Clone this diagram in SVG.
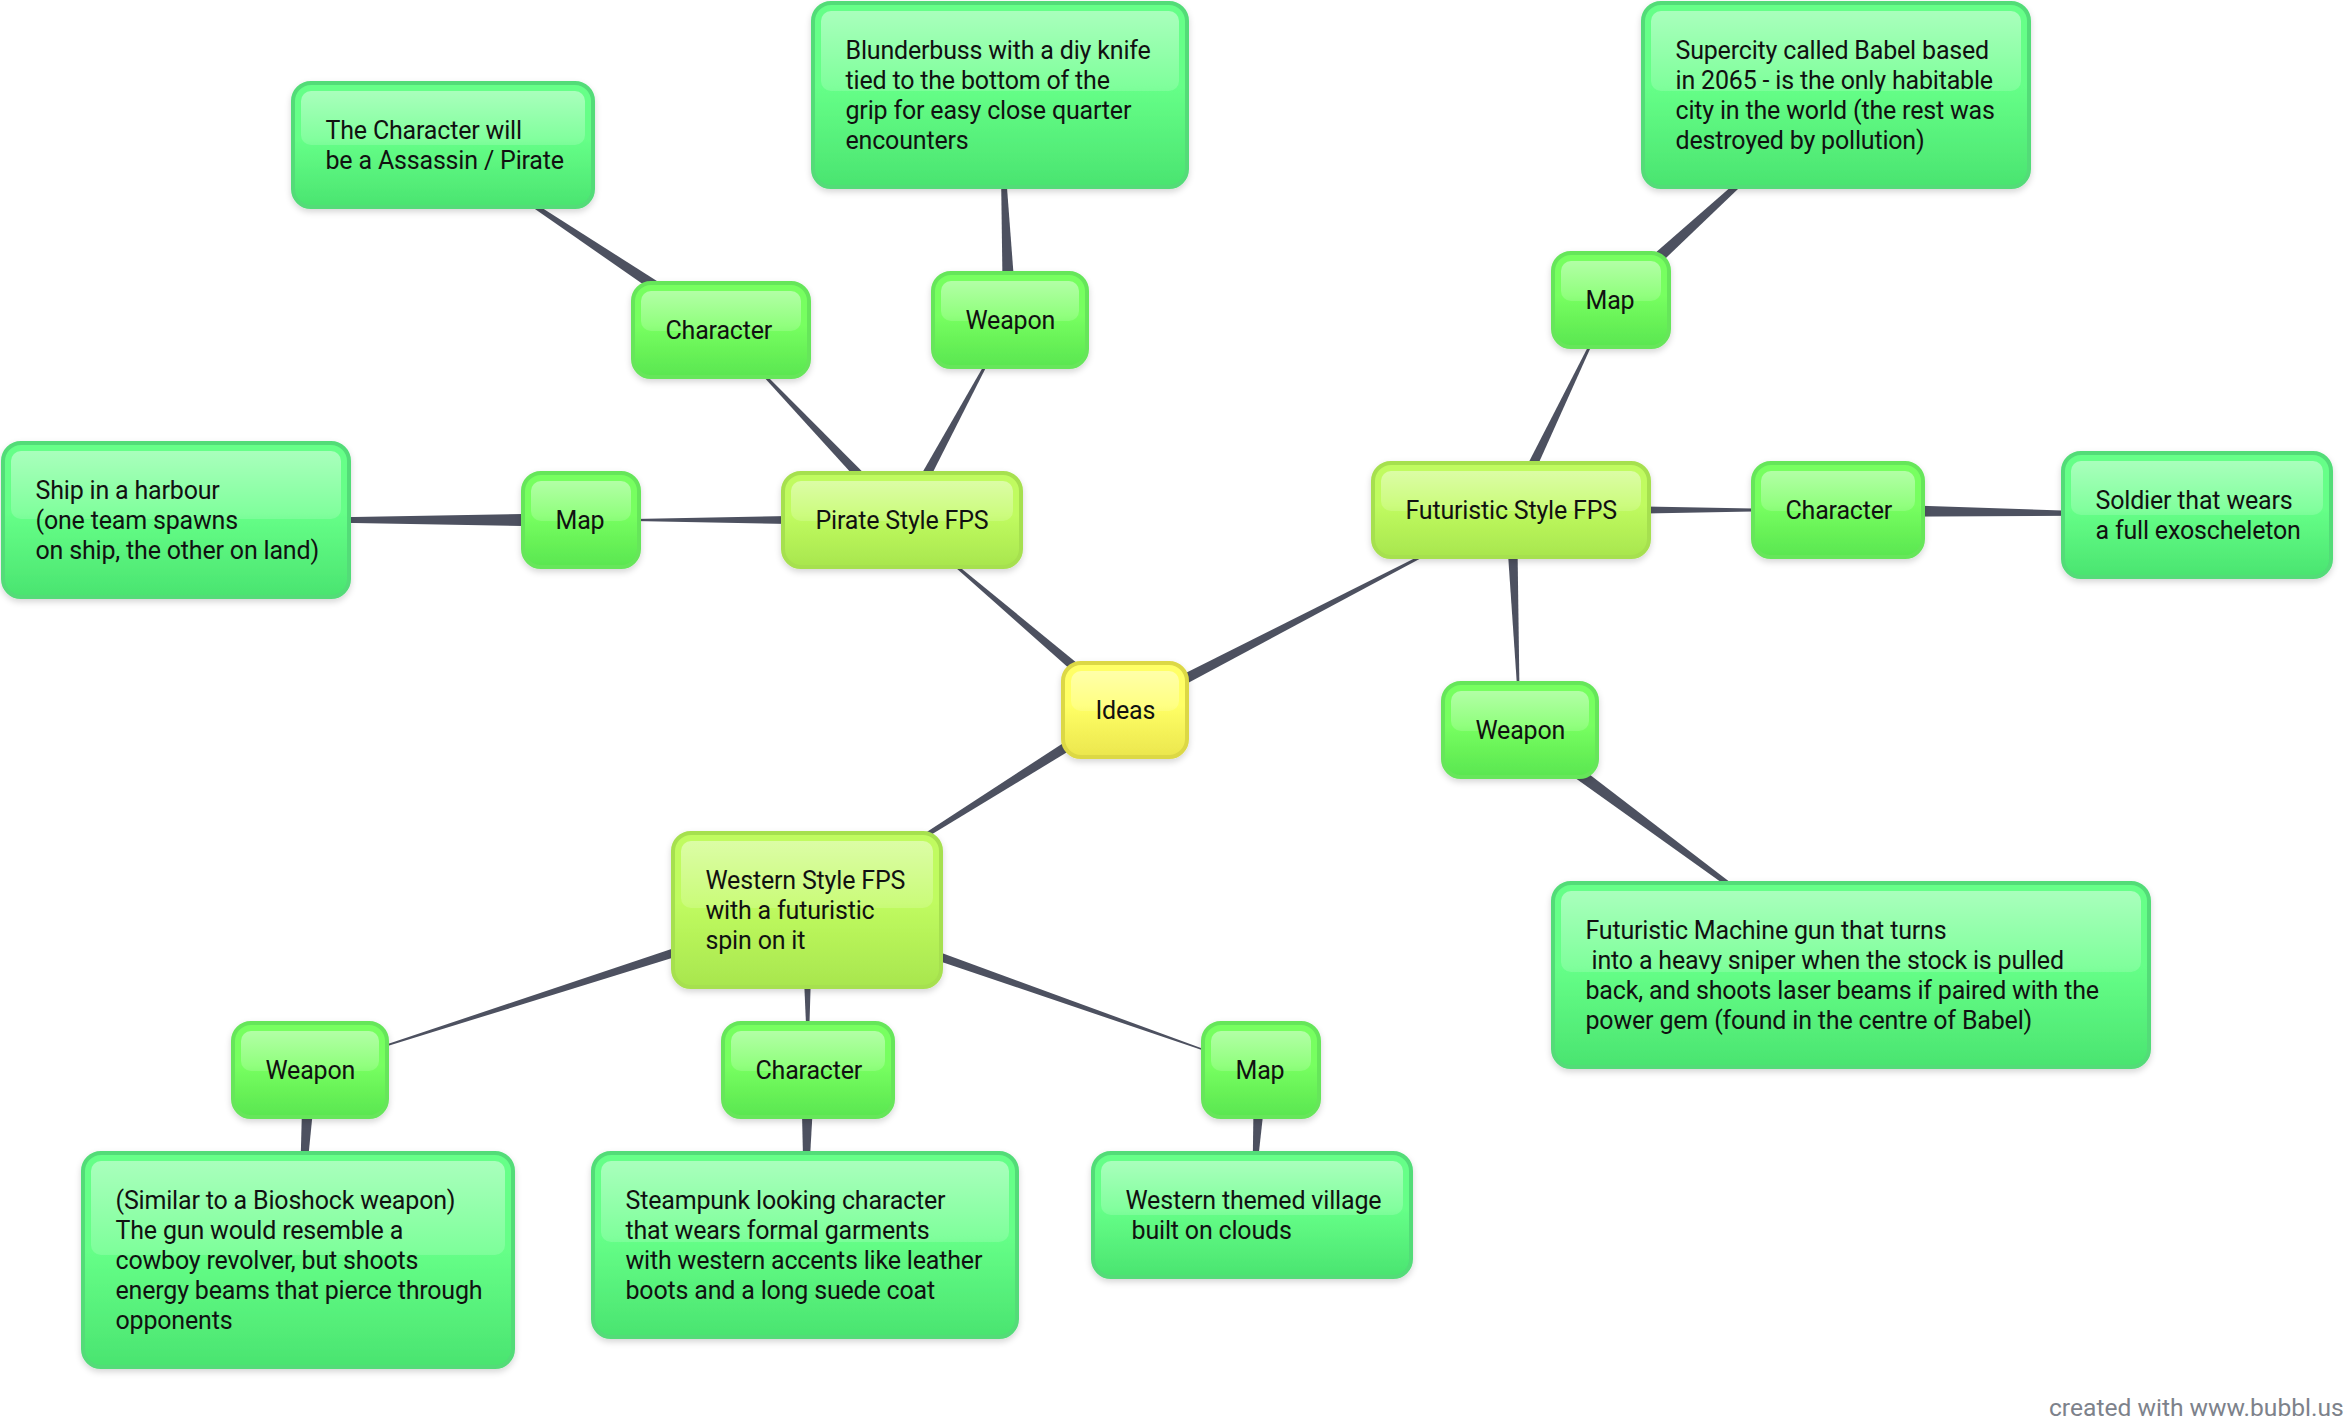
<svg xmlns="http://www.w3.org/2000/svg" width="2351" height="1418" viewBox="0 0 2351 1418">
<defs>
<linearGradient id="gY" x1="0" y1="0" x2="0" y2="1"><stop offset="0.45" stop-color="#ffff66"/><stop offset="1" stop-color="#ebe64d"/></linearGradient>
<linearGradient id="gL" x1="0" y1="0" x2="0" y2="1"><stop offset="0.45" stop-color="#c0fb60"/><stop offset="1" stop-color="#a8e64e"/></linearGradient>
<linearGradient id="gG" x1="0" y1="0" x2="0" y2="1"><stop offset="0.45" stop-color="#77ff60"/><stop offset="1" stop-color="#5ae650"/></linearGradient>
<linearGradient id="gT" x1="0" y1="0" x2="0" y2="1"><stop offset="0.45" stop-color="#66ff88"/><stop offset="1" stop-color="#4ae470"/></linearGradient>
<linearGradient id="gH" x1="0" y1="0" x2="0" y2="1"><stop offset="0" stop-color="#fff" stop-opacity="0.44"/><stop offset="1" stop-color="#fff" stop-opacity="0.15"/></linearGradient>
<filter id="sh" x="-10%" y="-10%" width="120%" height="125%"><feDropShadow dx="0" dy="3" stdDeviation="3" flood-color="#000" flood-opacity="0.16"/></filter>
</defs>
<style>
text{font-family:Roboto,"Liberation Sans",sans-serif;font-size:25px;letter-spacing:-0.18px;fill:#111;white-space:pre;transform:translate(0.5px,0.7px)}
.b{stroke-width:4;filter:url(#sh)}
.y{fill:url(#gY);stroke:#dcd845}
.l{fill:url(#gL);stroke:#a6e04f}
.g{fill:url(#gG);stroke:#66e65a}
.t{fill:url(#gT);stroke:#52dc78}
.h{fill:url(#gH)}
#connectors polygon{fill:#4d5160}
text.f{fill:#7d828b;font-size:24.6px;letter-spacing:0;transform:none}
</style>
<g id="connectors">
<polygon points="1128.9,705.4 1121.1,714.6 902,520"/>
<polygon points="1127.75,715.3 1122.25,704.7 1511,510"/>
<polygon points="1128.2,715.1 1121.8,704.9 807,910"/>
<polygon points="902,514 902,526 581,520"/>
<polygon points="581,513 581,527 176,520"/>
<polygon points="906.35,515.85 897.65,524.15 721,330"/>
<polygon points="724.9,324.2 717.1,335.8 443,145"/>
<polygon points="907.3,522.8 896.7,517.2 1010,320"/>
<polygon points="1017,320 1003,320 1000,95"/>
<polygon points="1516.4,512.6 1505.6,507.4 1612,300"/>
<polygon points="1616.7,305.2 1607.3,294.8 1836,95"/>
<polygon points="1511,504 1511,516 1838,510"/>
<polygon points="1838,503 1838,517 2197,515"/>
<polygon points="1505,510 1517,510 1520,730"/>
<polygon points="1515.8,735.6 1524.2,724.4 1851,975"/>
<polygon points="808.8,915.7 805.2,904.3 310,1070"/>
<polygon points="303,1070 317,1070 298,1260"/>
<polygon points="801,910 813,910 808,1070"/>
<polygon points="801,1070 815,1070 805,1245"/>
<polygon points="805,915.7 809,904.3 1261,1070"/>
<polygon points="1254,1070 1268,1070 1252,1215"/>
</g>
<g id="ideas"><rect class="b y" x="1063" y="663" width="124" height="94" rx="18"/><rect class="h" x="1071" y="671" width="108" height="40" rx="10"/><text x="1095" y="718">Ideas</text></g>
<g id="pirate"><rect class="b l" x="783" y="473" width="238" height="94" rx="18"/><rect class="h" x="791" y="481" width="222" height="40" rx="10"/><text x="815" y="528">Pirate Style FPS</text></g>
<g id="futuristic"><rect class="b l" x="1373" y="463" width="276" height="94" rx="18"/><rect class="h" x="1381" y="471" width="260" height="40" rx="10"/><text x="1405" y="518">Futuristic Style FPS</text></g>
<g id="western"><rect class="b l" x="673" y="833" width="268" height="154" rx="18"/><rect class="h" x="681" y="841" width="252" height="67" rx="10"/><text x="705" y="888">Western Style FPS</text><text x="705" y="918">with a futuristic</text><text x="705" y="948">spin on it</text></g>
<g id="pirate-map"><rect class="b g" x="523" y="473" width="116" height="94" rx="18"/><rect class="h" x="531" y="481" width="100" height="40" rx="10"/><text x="555" y="528">Map</text></g>
<g id="pirate-map-text"><rect class="b t" x="3" y="443" width="346" height="154" rx="18"/><rect class="h" x="11" y="451" width="330" height="68" rx="10"/><text x="35" y="498">Ship in a harbour</text><text x="35" y="528">(one team spawns</text><text x="35" y="558">on ship, the other on land)</text></g>
<g id="pirate-character"><rect class="b g" x="633" y="283" width="176" height="94" rx="18"/><rect class="h" x="641" y="291" width="160" height="40" rx="10"/><text x="665" y="338">Character</text></g>
<g id="pirate-character-text"><rect class="b t" x="293" y="83" width="300" height="124" rx="18"/><rect class="h" x="301" y="91" width="284" height="54" rx="10"/><text x="325" y="138">The Character will</text><text x="325" y="168">be a Assassin / Pirate</text></g>
<g id="pirate-weapon"><rect class="b g" x="933" y="273" width="154" height="94" rx="18"/><rect class="h" x="941" y="281" width="138" height="40" rx="10"/><text x="965" y="328">Weapon</text></g>
<g id="pirate-weapon-text"><rect class="b t" x="813" y="3" width="374" height="184" rx="18"/><rect class="h" x="821" y="11" width="358" height="80" rx="10"/><text x="845" y="58">Blunderbuss with a diy knife</text><text x="845" y="88">tied to the bottom of the</text><text x="845" y="118">grip for easy close quarter</text><text x="845" y="148">encounters</text></g>
<g id="fut-map"><rect class="b g" x="1553" y="253" width="116" height="94" rx="18"/><rect class="h" x="1561" y="261" width="100" height="40" rx="10"/><text x="1585" y="308">Map</text></g>
<g id="fut-map-text"><rect class="b t" x="1643" y="3" width="386" height="184" rx="18"/><rect class="h" x="1651" y="11" width="370" height="80" rx="10"/><text x="1675" y="58">Supercity called Babel based</text><text x="1675" y="88">in 2065 - is the only habitable</text><text x="1675" y="118">city in the world (the rest was</text><text x="1675" y="148">destroyed by pollution)</text></g>
<g id="fut-character"><rect class="b g" x="1753" y="463" width="170" height="94" rx="18"/><rect class="h" x="1761" y="471" width="154" height="40" rx="10"/><text x="1785" y="518">Character</text></g>
<g id="fut-character-text"><rect class="b t" x="2063" y="453" width="268" height="124" rx="18"/><rect class="h" x="2071" y="461" width="252" height="54" rx="10"/><text x="2095" y="508">Soldier that wears</text><text x="2095" y="538">a full exoscheleton</text></g>
<g id="fut-weapon"><rect class="b g" x="1443" y="683" width="154" height="94" rx="18"/><rect class="h" x="1451" y="691" width="138" height="40" rx="10"/><text x="1475" y="738">Weapon</text></g>
<g id="fut-weapon-text"><rect class="b t" x="1553" y="883" width="596" height="184" rx="18"/><rect class="h" x="1561" y="891" width="580" height="81" rx="10"/><text x="1585" y="938">Futuristic Machine gun that turns</text><text x="1585" y="968"> into a heavy sniper when the stock is pulled</text><text x="1585" y="998">back, and shoots laser beams if paired with the</text><text x="1585" y="1028">power gem (found in the centre of Babel)</text></g>
<g id="west-weapon"><rect class="b g" x="233" y="1023" width="154" height="94" rx="18"/><rect class="h" x="241" y="1031" width="138" height="40" rx="10"/><text x="265" y="1078">Weapon</text></g>
<g id="west-weapon-text"><rect class="b t" x="83" y="1153" width="430" height="214" rx="18"/><rect class="h" x="91" y="1161" width="414" height="94" rx="10"/><text x="115" y="1208">(Similar to a Bioshock weapon)</text><text x="115" y="1238">The gun would resemble a</text><text x="115" y="1268">cowboy revolver, but shoots</text><text x="115" y="1298">energy beams that pierce through</text><text x="115" y="1328">opponents</text></g>
<g id="west-character"><rect class="b g" x="723" y="1023" width="170" height="94" rx="18"/><rect class="h" x="731" y="1031" width="154" height="40" rx="10"/><text x="755" y="1078">Character</text></g>
<g id="west-character-text"><rect class="b t" x="593" y="1153" width="424" height="184" rx="18"/><rect class="h" x="601" y="1161" width="408" height="81" rx="10"/><text x="625" y="1208">Steampunk looking character</text><text x="625" y="1238">that wears formal garments</text><text x="625" y="1268">with western accents like leather</text><text x="625" y="1298">boots and a long suede coat</text></g>
<g id="west-map"><rect class="b g" x="1203" y="1023" width="116" height="94" rx="18"/><rect class="h" x="1211" y="1031" width="100" height="40" rx="10"/><text x="1235" y="1078">Map</text></g>
<g id="west-map-text"><rect class="b t" x="1093" y="1153" width="318" height="124" rx="18"/><rect class="h" x="1101" y="1161" width="302" height="54" rx="10"/><text x="1125" y="1208">Western themed village</text><text x="1125" y="1238"> built on clouds</text></g>
<text class="f" x="2049" y="1416">created with www.bubbl.us</text>
</svg>
